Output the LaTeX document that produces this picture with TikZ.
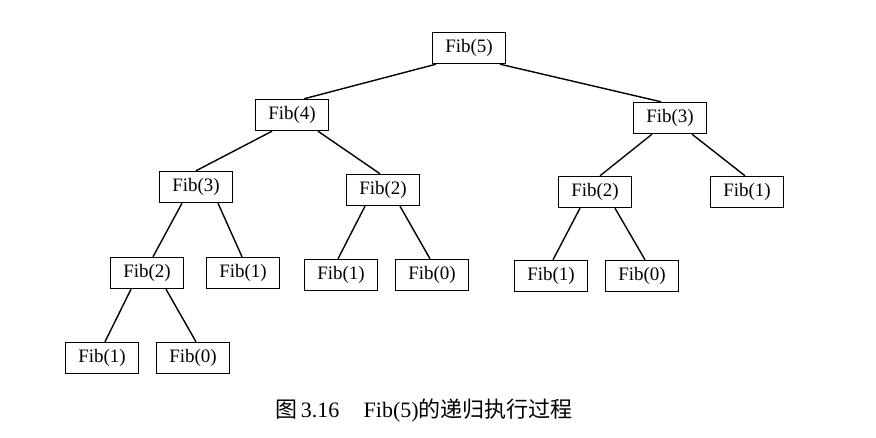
\documentclass[tikz,border=0pt]{standalone}
\usepackage{fontspec}
\setmainfont{Liberation Serif}
\newfontfamily\cjk{Noto Sans CJK SC}
\usetikzlibrary{calc}
\begin{document}
\begin{tikzpicture}[x=1pt,y=-1pt,
  fbox/.style={draw,line width=1.4pt,minimum width=73pt,minimum height=31pt,inner sep=0pt,font=\fontsize{19}{22}\selectfont},
  link/.style={line width=1.4pt}]
\useasboundingbox (0,0) rectangle (876,438);
\node[fbox] (f5) at (469,48) {Fib(5)};
\node[fbox] (f4) at (292,115) {Fib(4)};
\node[fbox] (f3r) at (670,118) {Fib(3)};
\node[fbox] (f3l) at (196,187) {Fib(3)};
\node[fbox] (f2m) at (383,190) {Fib(2)};
\node[fbox] (f2r) at (595,192) {Fib(2)};
\node[fbox] (f1r) at (747,192) {Fib(1)};
\node[fbox] (f2l) at (147,273) {Fib(2)};
\node[fbox] (f1a) at (243,273) {Fib(1)};
\node[fbox] (f1b) at (341,275) {Fib(1)};
\node[fbox] (f0b) at (432,275) {Fib(0)};
\node[fbox] (f1c) at (551,276) {Fib(1)};
\node[fbox] (f0c) at (642,276) {Fib(0)};
\node[fbox] (f1d) at (102,358) {Fib(1)};
\node[fbox] (f0d) at (193,358) {Fib(0)};
\node[font=\fontsize{22}{25}\selectfont] (cap) at (424,411) {{\cjk 图}\,3.16\hspace{1.1em}Fib(5){\cjk 的递归执行过程}};
\draw[link] ($(f5.south)+(-33,0)$) -- ($(f4.north)+(12,0)$);
\draw[link] ($(f5.south)+(31,0)$) -- ($(f3r.north)+(-9,0)$);
\draw[link] ($(f4.south)+(-20,0)$) -- (f3l.north);
\draw[link] ($(f4.south)+(26,0)$) -- ($(f2m.north)+(-3,0)$);
\draw[link] ($(f3r.south)+(-18,0)$) -- ($(f2r.north)+(5,0)$);
\draw[link] ($(f3r.south)+(22,0)$) -- ($(f1r.north)+(-2,0)$);
\draw[link] ($(f3l.south)+(-14,0)$) -- ($(f2l.north)+(6,0)$);
\draw[link] ($(f3l.south)+(22,0)$) -- ($(f1a.north)+(-1,0)$);
\draw[link] ($(f2m.south)+(-18,0)$) -- ($(f1b.north)+(-3,0)$);
\draw[link] ($(f2m.south)+(17,0)$) -- ($(f0b.north)+(-2,0)$);
\draw[link] ($(f2r.south)+(-15,0)$) -- ($(f1c.north)+(2,0)$);
\draw[link] ($(f2r.south)+(20,0)$) -- ($(f0c.north)+(3,0)$);
\draw[link] ($(f2l.south)+(-16,0)$) -- ($(f1d.north)+(3,0)$);
\draw[link] ($(f2l.south)+(19,0)$) -- ($(f0d.north)+(3,0)$);
\end{tikzpicture}
\end{document}
